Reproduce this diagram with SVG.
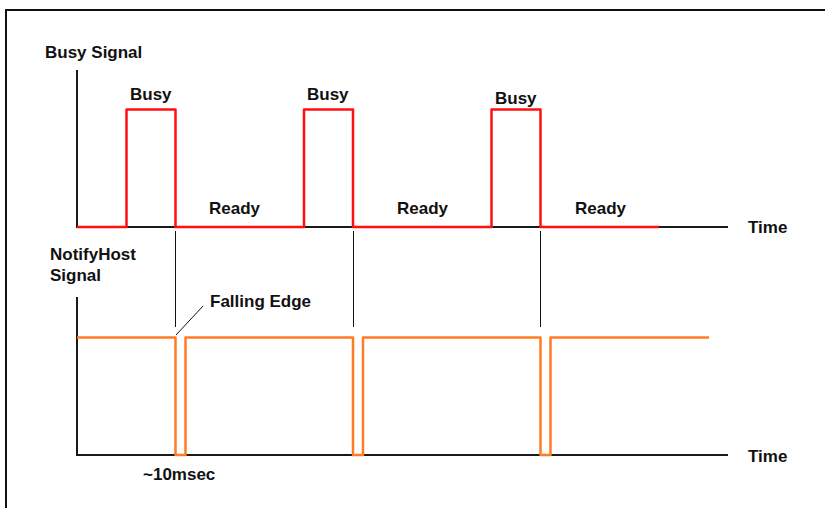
<svg xmlns="http://www.w3.org/2000/svg" width="825" height="508" viewBox="0 0 825 508">
<style>
text{font-family:"Liberation Sans",Arial,sans-serif;font-weight:bold;font-size:17px;fill:#111}
.axis{stroke:#1a1a1a;stroke-width:2;fill:none}
.thin{stroke:#111;stroke-width:1;fill:none}
.busy{stroke:#ff1010;stroke-width:2.5;fill:none;stroke-linejoin:round}
.notify{stroke:#ff7c24;stroke-width:2.5;fill:none;stroke-linejoin:round}
</style>
<rect width="825" height="508" fill="#fff"/>
<path d="M6,508 V10 H825" stroke="#111" stroke-width="2" fill="none"/>
<g id="axes">
<path class="axis" d="M77,70 V227 H728"/>
<path class="axis" d="M77,297 V455 H728"/>
</g>
<g id="busy-signal">
<path class="busy" d="M77,227 H126.5 V109.5 H175.5 V227 H304 V109.5 H353 V227 H491.5 V109.5 H540.5 V227 H659"/>
</g>
<g id="notify-signal">
<path class="notify" d="M77,337.5 H175.5 V455 H185.5 V337.5 H353 V455 H363 V337.5 H540.5 V455 H550.5 V337.5 H709"/>
</g>
<g id="connectors">
<line class="thin" x1="175.5" y1="231" x2="175.5" y2="327"/>
<line class="thin" x1="353.5" y1="231" x2="353.5" y2="327"/>
<line class="thin" x1="540.5" y1="231" x2="540.5" y2="327"/>
<line class="thin" x1="176" y1="335" x2="203" y2="306"/>
</g>
<g id="labels">
<text x="45" y="58">Busy Signal</text>
<text x="130" y="100">Busy</text>
<text x="307" y="100">Busy</text>
<text x="495" y="104">Busy</text>
<text x="209" y="214">Ready</text>
<text x="397" y="214">Ready</text>
<text x="575" y="214">Ready</text>
<text x="748" y="233">Time</text>
<text x="50" y="260">NotifyHost</text>
<text x="50" y="281">Signal</text>
<text x="210" y="307">Falling Edge</text>
<text x="143" y="480">~10msec</text>
<text x="748" y="462">Time</text>
</g>
</svg>
